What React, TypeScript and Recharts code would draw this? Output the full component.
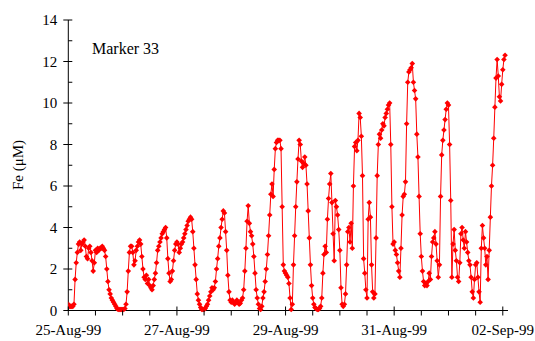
import React from "react";
import { LineChart, Line, XAxis, YAxis } from "recharts";

// Fe readings every 30 minutes, one array per day
const day25 = [0.3, 0.2, 0.2, 0.2, 0.2, 0.3, 1.5, 2.3, 2.8, 3.2, 3.3, 2.9, 3.2, 3.3, 3.4, 3.1, 2.6, 2.5, 3.0, 3.1, 2.8, 2.4, 1.9, 2.3, 2.9, 2.8, 3.0, 2.9, 3.0, 3.0, 3.1, 3.0, 2.9, 2.6, 2.0, 1.4, 1.0, 0.8, 0.6, 0.5, 0.4, 0.3, 0.2, 0.1, 0.05, 0.05, 0.05, 0.05];
const day26 = [0.05, 0.05, 0.1, 0.3, 0.9, 1.9, 2.8, 3.1, 3.1, 2.8, 2.2, 2.4, 2.9, 3.1, 3.3, 3.4, 3.2, 2.6, 2.0, 1.6, 1.5, 1.7, 1.3, 1.5, 1.2, 1.1, 1.0, 1.2, 1.5, 1.8, 2.3, 2.9, 3.1, 3.3, 3.5, 3.7, 3.8, 3.9, 4.0, 3.5, 2.5, 1.8, 1.4, 1.5, 1.9, 2.4, 2.9, 3.2];
const day27 = [3.3, 3.2, 2.8, 3.0, 3.2, 3.3, 3.5, 3.7, 3.9, 4.1, 4.3, 4.4, 4.5, 4.4, 3.8, 3.0, 2.2, 1.5, 0.8, 0.5, 0.3, 0.15, 0.05, 0.05, 0.05, 0.1, 0.2, 0.3, 0.5, 0.7, 0.9, 1.1, 1.0, 1.1, 1.4, 2.0, 2.5, 3.1, 3.5, 4.0, 4.4, 4.8, 4.7, 3.8, 2.9, 1.7, 0.9, 0.5];
const day28 = [0.4, 0.5, 0.4, 0.3, 0.4, 0.5, 0.4, 0.3, 0.35, 0.5, 0.6, 1.0, 1.9, 3.0, 4.3, 5.05, 4.2, 3.8, 3.6, 3.2, 2.6, 1.8, 1.0, 0.6, 0.3, 0.1, 0.05, 0.2, 0.6, 0.9, 1.4, 2.0, 2.7, 3.6, 4.6, 5.6, 6.1, 5.5, 6.8, 7.8, 8.1, 8.2, 8.2, 8.2, 7.8, 5.0, 2.2, 1.9];
const day29 = [1.8, 1.7, 1.6, 1.3, 0.6, 0.05, 0.3, 2.2, 3.6, 5.0, 6.2, 7.3, 8.2, 8.0, 7.2, 6.9, 7.1, 7.4, 7.0, 6.1, 4.8, 3.5, 2.2, 1.2, 0.6, 0.3, 0.15, 0.1, 0.05, 0.05, 0.1, 0.2, 0.6, 1.8, 2.7, 3.1, 2.8, 4.4, 5.4, 6.1, 6.6, 5.2, 3.7, 2.4, 5.3, 5.0, 4.6, 3.9];
const day30 = [2.9, 1.1, 0.3, 0.2, 0.3, 0.8, 2.2, 3.8, 4.0, 3.3, 4.2, 3.0, 6.0, 7.9, 8.1, 7.7, 8.2, 9.5, 9.3, 8.4, 6.5, 2.5, 1.8, 1.0, 0.6, 4.4, 5.2, 4.5, 2.2, 0.9, 0.6, 0.8, 3.5, 6.5, 8.0, 8.5, 8.3, 8.7, 9.0, 8.9, 9.3, 9.5, 9.7, 9.9, 10.0, 8.0, 5.0, 3.2];
const day31 = [3.3, 2.9, 2.7, 2.3, 1.9, 1.6, 3.0, 4.6, 5.5, 5.6, 6.2, 9.0, 11.0, 11.5, 11.6, 11.7, 11.9, 11.0, 10.6, 10.2, 8.5, 7.4, 5.5, 3.7, 2.6, 1.9, 1.4, 1.2, 1.3, 1.2, 1.4, 1.8, 1.5, 2.6, 3.3, 3.5, 3.8, 3.2, 2.4, 1.6, 2.2, 5.5, 7.5, 8.2, 8.7, 9.2, 9.7, 10.0];
const day01 = [9.9, 8.0, 5.3, 1.6, 3.2, 3.9, 2.9, 2.4, 1.6, 1.4, 2.3, 3.7, 4.0, 3.4, 3.0, 3.8, 3.3, 2.8, 2.4, 2.2, 1.6, 0.9, 0.6, 1.5, 2.2, 2.3, 1.6, 0.9, 0.4, 3.0, 4.1, 3.5, 3.0, 2.2, 2.6, 1.5, 2.9, 4.5, 6.0, 7.0, 8.3, 9.8, 11.2, 12.1, 11.3, 10.3, 10.1, 10.9];
const day02 = [11.6, 12.1, 12.3];

const dateLabels = ["25-Aug-99", "27-Aug-99", "29-Aug-99", "31-Aug-99", "02-Sep-99"];
const xTicks = [0, 12, 24, 36, 48, 60, 72, 84, 96, 108, 120, 132, 144, 156, 168, 180, 192];
const yTicks = [0, 1, 2, 3, 4, 5, 6, 7, 8, 9, 10, 11, 12, 13, 14];

const STEP_HOURS = 0.5;
const feValues = [...day25, ...day26, ...day27, ...day28, ...day29, ...day30, ...day31, ...day01, ...day02];
const data = feValues.map((fe, i) => ({ hour: i * STEP_HOURS, fe }));

const FONT = "'Liberation Serif', 'Times New Roman', serif";
const X_END = 194.3;

const XTick = (props: any) => {
  const { x, y, payload } = props;
  const major = payload.value % 48 === 0;
  return (
    <g>
      <line x1={x} x2={x} y1={major ? y - 4 : y} y2={y + 5} stroke="#000" />
      {major && (
        <text x={x} y={y + 24} textAnchor="middle" fontSize={15} fontFamily={FONT} fill="#000">
          {dateLabels[payload.value / 48]}
        </text>
      )}
    </g>
  );
};

const YTick = (props: any) => {
  const { x, y, payload } = props;
  const major = payload.value % 2 === 0;
  return (
    <g>
      <line x1={major ? x - 5 : x} x2={x + 4} y1={y} y2={y} stroke="#000" />
      {major && (
        <text x={x - 11} y={y + 5} textAnchor="end" fontSize={15} fontFamily={FONT} fill="#000">
          {payload.value}
        </text>
      )}
    </g>
  );
};

const renderDot = (p: any) => {
  const { cx, cy, index } = p;
  const r = 2.8;
  return (
    <path
      key={`dot-${index}`}
      d={`M${cx},${cy - r}L${cx + r},${cy}L${cx},${cy + r}L${cx - r},${cy}Z`}
      fill="#ff0000"
    />
  );
};

export default function App() {
  return (
    <div style={{ position: "absolute", left: 0, top: 0, width: 535, height: 341, background: "#fff" }}>
      <LineChart width={535} height={341} data={data} margin={{ top: 20, right: 27, bottom: 0, left: 0 }}>
        <XAxis
          dataKey="hour"
          type="number"
          domain={[0, X_END]}
          ticks={xTicks}
          interval={0}
          tick={<XTick />}
          tickLine={false}
          tickSize={0}
          tickMargin={0}
          height={30.5}
          axisLine={{ stroke: "#000" }}
          allowDataOverflow
        />
        <XAxis
          xAxisId="top"
          orientation="top"
          dataKey="hour"
          type="number"
          domain={[0, X_END]}
          tick={false}
          tickLine={false}
          height={0}
          axisLine={{ stroke: "#000" }}
        />
        <YAxis
          type="number"
          domain={[0, 14]}
          ticks={yTicks}
          interval={0}
          tick={<YTick />}
          tickLine={false}
          tickSize={0}
          tickMargin={0}
          width={68.3}
          axisLine={{ stroke: "#000" }}
        />
        <YAxis
          yAxisId="right"
          orientation="right"
          type="number"
          domain={[0, 14]}
          tick={false}
          tickLine={false}
          width={0}
          axisLine={{ stroke: "#000" }}
        />
        <Line
          type="linear"
          dataKey="fe"
          stroke="#ff0000"
          strokeWidth={1}
          dot={renderDot}
          activeDot={false}
          isAnimationActive={false}
        />
      </LineChart>
      <svg width={535} height={341} style={{ position: "absolute", left: 0, top: 0, pointerEvents: "none" }}>
        <text x={92} y={54} fontSize={16} fontFamily={FONT} fill="#000">
          Marker 33
        </text>
        <text
          x={23}
          y={165}
          fontSize={15}
          fontFamily={FONT}
          fill="#000"
          textAnchor="middle"
          transform="rotate(-90 23 165)"
        >
          Fe (μM)
        </text>
      </svg>
    </div>
  );
}
